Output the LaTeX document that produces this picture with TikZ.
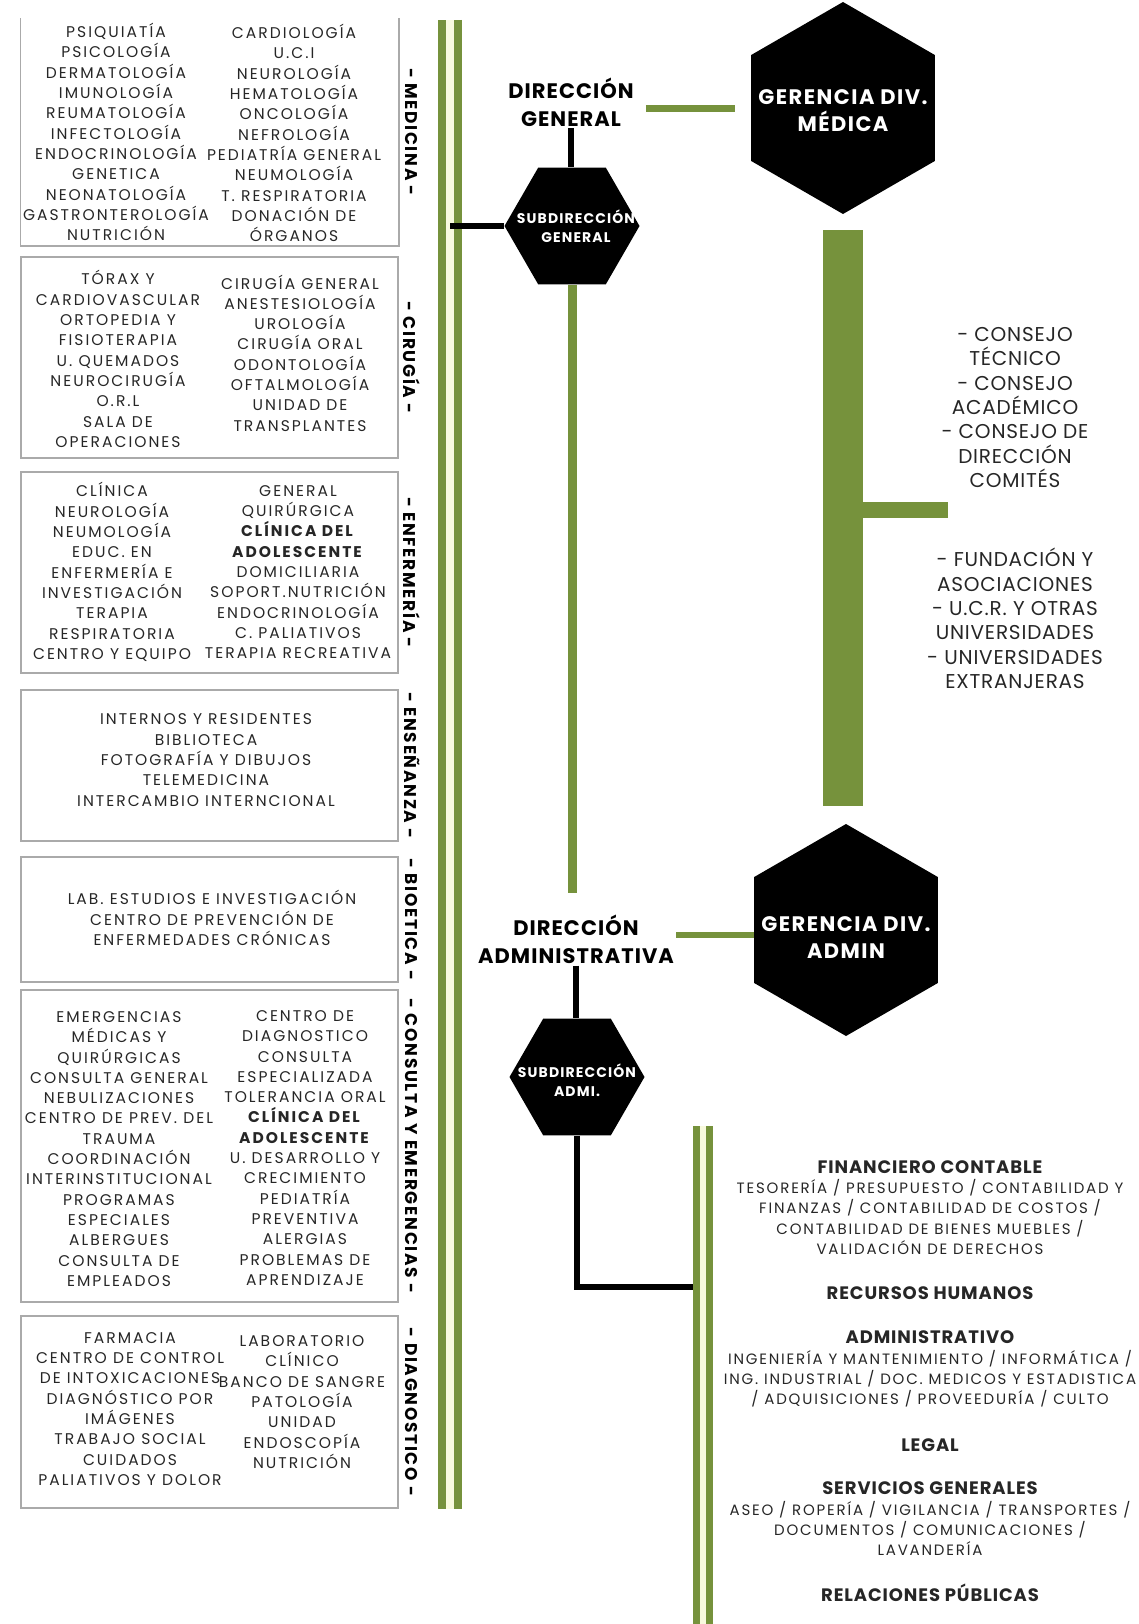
\documentclass[tikz,border=0pt]{standalone}
\usepackage{fontspec}
\setmainfont{Poppins}
\usetikzlibrary{shapes.geometric,positioning}
\definecolor{olive}{RGB}{118,146,60}
\definecolor{cream}{RGB}{248,250,222}
\definecolor{frame}{RGB}{170,170,170}
\tikzset{
  area/.style={rectangle, draw=frame, line width=1.5pt, inner sep=0pt},
  col/.style={align=center, inner sep=0pt, text=black!85, font=\fontsize{15.5}{20.3}\selectfont\addfontfeatures{LetterSpace=13}},
  tag/.style={rotate=-90, inner sep=0pt, font=\bfseries\fontsize{17}{18}\selectfont\addfontfeatures{LetterSpace=10}},
  dir/.style={align=center, inner sep=2pt, font=\bfseries\fontsize{21}{28}\selectfont\addfontfeatures{LetterSpace=5}},
  hexbig/.style={regular polygon, regular polygon sides=6, regular polygon rotate=30, fill=black, minimum size=212pt, inner sep=0pt},
  hexsmall/.style={regular polygon, regular polygon sides=6, fill=black, minimum size=135pt, inner sep=0pt},
  hexbigtxt/.style={align=center, text=white, font=\bfseries\fontsize{21}{27}\selectfont\addfontfeatures{LetterSpace=7}},
  hexsmalltxt/.style={align=center, text=white, font=\bfseries\fontsize{14}{19}\selectfont\addfontfeatures{LetterSpace=8}},
  council/.style={align=center, inner sep=0pt, text=black!85, font=\fontsize{20}{24.3}\selectfont\addfontfeatures{LetterSpace=4}},
  dept/.style={align=center, inner sep=0pt, text=black!85, font=\fontsize{15}{20.3}\selectfont\addfontfeatures{LetterSpace=12}},
  gline/.style={draw=olive, line width=7pt},
  bline/.style={draw=black, line width=6pt},
  rail/.style={draw=olive, line width=8pt, double=cream, double distance=8pt},
}
\newcommand{\hd}[1]{{\bfseries\fontsize{18}{20.3}\selectfont\addfontfeatures{LetterSpace=5}#1}}

\begin{document}
\begin{tikzpicture}[x=1pt, y=-1pt]
\useasboundingbox (0,0) rectangle (1138,1624);

% services, left column
\node[area, draw=none, minimum width=377pt, minimum height=226pt] (med) at (209.5,132) {};
\draw[frame, line width=1.5pt] (med.north west) -- (med.south west) -- (med.south east) -- (med.north east);
\node[area, minimum width=377pt, minimum height=201pt] (cir) at (209.5,357.5) {};
\node[area, minimum width=377pt, minimum height=201pt] (enf) at (209.5,572.5) {};
\node[area, minimum width=377pt, minimum height=151pt] (ens) at (209.5,765.5) {};
\node[area, minimum width=377pt, minimum height=125pt] (bio) at (209.5,919.5) {};
\node[area, minimum width=377pt, minimum height=312pt] (con) at (209.5,1146) {};
\node[area, minimum width=377pt, minimum height=192pt] (dia) at (209.5,1412) {};

\node[col] (med-a) at (116,132) {PSIQUIATÍA\\PSICOLOGÍA\\DERMATOLOGÍA\\IMUNOLOGÍA\\REUMATOLOGÍA\\INFECTOLOGÍA\\ENDOCRINOLOGÍA\\GENETICA\\NEONATOLOGÍA\\GASTRONTEROLOGÍA\\NUTRICIÓN};
\node[col] (med-b) at (294,133) {CARDIOLOGÍA\\U.C.I\\NEUROLOGÍA\\HEMATOLOGÍA\\ONCOLOGÍA\\NEFROLOGÍA\\PEDIATRÍA GENERAL\\NEUMOLOGÍA\\T. RESPIRATORIA\\DONACIÓN DE\\ÓRGANOS};
\node[col] (cir-a) at (118,359) {TÓRAX Y\\CARDIOVASCULAR\\ORTOPEDIA Y\\FISIOTERAPIA\\U. QUEMADOS\\NEUROCIRUGÍA\\O.R.L\\SALA DE\\OPERACIONES};
\node[col] (cir-b) at (300,353) {CIRUGÍA GENERAL\\ANESTESIOLOGÍA\\UROLOGÍA\\CIRUGÍA ORAL\\ODONTOLOGÍA\\OFTALMOLOGÍA\\UNIDAD DE\\TRANSPLANTES};
\node[col] (enf-a) at (112,572) {CLÍNICA\\NEUROLOGÍA\\NEUMOLOGÍA\\EDUC. EN\\ENFERMERÍA E\\INVESTIGACIÓN\\TERAPIA\\RESPIRATORIA\\CENTRO Y EQUIPO};
\node[col] (enf-b) at (298,572) {GENERAL\\QUIRÚRGICA\\\textbf{CLÍNICA DEL}\\\textbf{ADOLESCENTE}\\DOMICILIARIA\\SOPORT.NUTRICIÓN\\ENDOCRINOLOGÍA\\C. PALIATIVOS\\TERAPIA RECREATIVA};
\node[col] (ens-a) at (206,760) {INTERNOS Y RESIDENTES\\BIBLIOTECA\\FOTOGRAFÍA Y DIBUJOS\\TELEMEDICINA\\INTERCAMBIO INTERNCIONAL};
\node[col] (bio-a) at (212,918) {LAB. ESTUDIOS E INVESTIGACIÓN\\CENTRO DE PREVENCIÓN DE\\ENFERMEDADES CRÓNICAS};
\node[col] (con-a) at (119,1149) {EMERGENCIAS\\MÉDICAS Y\\QUIRÚRGICAS\\CONSULTA GENERAL\\NEBULIZACIONES\\CENTRO DE PREV. DEL\\TRAUMA\\COORDINACIÓN\\INTERINSTITUCIONAL\\PROGRAMAS\\ESPECIALES\\ALBERGUES\\CONSULTA DE\\EMPLEADOS};
\node[col] (con-b) at (305,1148) {CENTRO DE\\DIAGNOSTICO\\CONSULTA\\ESPECIALIZADA\\TOLERANCIA ORAL\\\textbf{CLÍNICA DEL}\\\textbf{ADOLESCENTE}\\U. DESARROLLO Y\\CRECIMIENTO\\PEDIATRÍA\\PREVENTIVA\\ALERGIAS\\PROBLEMAS DE\\APRENDIZAJE};
\node[col] (dia-a) at (130,1409) {FARMACIA\\CENTRO DE CONTROL\\DE INTOXICACIONES\\DIAGNÓSTICO POR\\IMÁGENES\\TRABAJO SOCIAL\\CUIDADOS\\PALIATIVOS Y DOLOR};
\node[col] (dia-b) at (302,1402) {LABORATORIO\\CLÍNICO\\BANCO DE SANGRE\\PATOLOGÍA\\UNIDAD\\ENDOSCOPÍA\\NUTRICIÓN};

\node[tag] (tmed) at ([xshift=13pt]med.east) {- MEDICINA -};
\node[tag] (tcir) at ([xshift=13pt]cir.east) {- CIRUGÍA -};
\node[tag] (tenf) at ([xshift=13pt]enf.east) {- ENFERMERÍA -};
\node[tag] (tens) at ([xshift=13pt]ens.east) {- ENSEÑANZA -};
\node[tag] (tbio) at ([xshift=13pt]bio.east) {- BIOETICA -};
\node[tag] (tcon) at ([xshift=13pt]con.east) {- CONSULTA Y EMERGENCIAS -};
\node[tag] (tdia) at ([xshift=13pt]dia.east) {- DIAGNOSTICO -};

% management
\node[dir] (dg) at (571,102) {DIRECCIÓN\\GENERAL};
\node[hexsmall] (subdg) at (572,226) {};
\node[hexsmalltxt] (subdg-t) at ([xshift=4pt]subdg.center) {SUBDIRECCIÓN\\GENERAL};
\node[hexbig] (gdm) at (843,108) {};
\node[hexbigtxt] (gdm-t) at ([yshift=-3pt]gdm.center) {GERENCIA DIV.\\MÉDICA};
\node[dir] (da) at (576,939) {DIRECCIÓN\\ADMINISTRATIVA};
\node[hexbig] (gda) at (846,930) {};
\node[hexbigtxt] (gda-t) at ([yshift=-8pt]gda.center) {GERENCIA DIV.\\ADMIN};
\node[hexsmall] (subadm) at (577,1077) {};
\node[hexsmalltxt] (subadm-t) at ([yshift=-3pt]subadm.center) {SUBDIRECCIÓN\\ADMI.};

\node[council] (consejo) at (1015,407.5) {- CONSEJO\\TÉCNICO\\- CONSEJO\\ACADÉMICO\\- CONSEJO DE\\DIRECCIÓN\\COMITÉS};
\node[council] (fund) at (1015,618.5) {- FUNDACIÓN Y\\ASOCIACIONES\\- U.C.R. Y OTRAS\\UNIVERSIDADES\\- UNIVERSIDADES\\EXTRANJERAS};

\node[dept] (fin) at (930,1207.5) {\hd{FINANCIERO CONTABLE}\\TESORERÍA / PRESUPUESTO / CONTABILIDAD Y\\FINANZAS / CONTABILIDAD DE COSTOS /\\CONTABILIDAD DE BIENES MUEBLES /\\VALIDACIÓN DE DERECHOS};
\node[dept] (rh) at (930,1293) {\hd{RECURSOS HUMANOS}};
\node[dept] (adm) at (930,1369) {\hd{ADMINISTRATIVO}\\INGENIERÍA Y MANTENIMIENTO / INFORMÁTICA /\\ING. INDUSTRIAL / DOC. MEDICOS Y ESTADISTICA\\/ ADQUISICIONES / PROVEEDURÍA / CULTO};
\node[dept] (legal) at (930,1445) {\hd{LEGAL}};
\node[dept] (serv) at (930,1519) {\hd{SERVICIOS GENERALES}\\ASEO / ROPERÍA / VIGILANCIA / TRANSPORTES /\\DOCUMENTOS / COMUNICACIONES /\\LAVANDERÍA};
\node[dept] (rp) at (930,1593) {\hd{RELACIONES PÚBLICAS}};

% rails and links
\coordinate (railL-top) at (449.5,20);
\coordinate (railL-bot) at (449.5,1509);
\coordinate (railR-top) at (703,1126);
\coordinate (railR-bot) at (703,1624);
\coordinate (rjoin) at (703,1287);
\coordinate (branch) at (948,510);
\coordinate (dglink) at ([yshift=-7pt]dg.east);
\coordinate (dalink) at ([yshift=4pt]da.east);

\draw[rail] (railL-top) -- (railL-bot);
\draw[bline] (subdg.west) -- (subdg.west -| railL-top);
\draw[bline] (dg.south) -- (dg.south |- subdg.north);
\draw[bline] (da.south) -- (da.south |- subadm.north);
\draw[bline] (subadm.south) |- (rjoin);
\draw[rail, line width=7pt, double distance=6pt] (railR-top) -- (railR-bot);

\draw[gline, shorten <=10pt, shorten >=16pt] (dglink) -- (dglink -| gdm.west);
\draw[gline, line width=6pt] (dalink) -- (dalink -| gda.west);
\draw[gline, line width=9pt, shorten >=19pt] (subdg.south) -- (subdg.south |- da.north);
\draw[gline, line width=40pt, shorten <=16pt, shorten >=18pt] (gdm.south) -- (gdm.south |- gda.north);
\draw[gline, line width=16pt] (gdm.south |- branch) -- (branch);
\end{tikzpicture}
\end{document}
